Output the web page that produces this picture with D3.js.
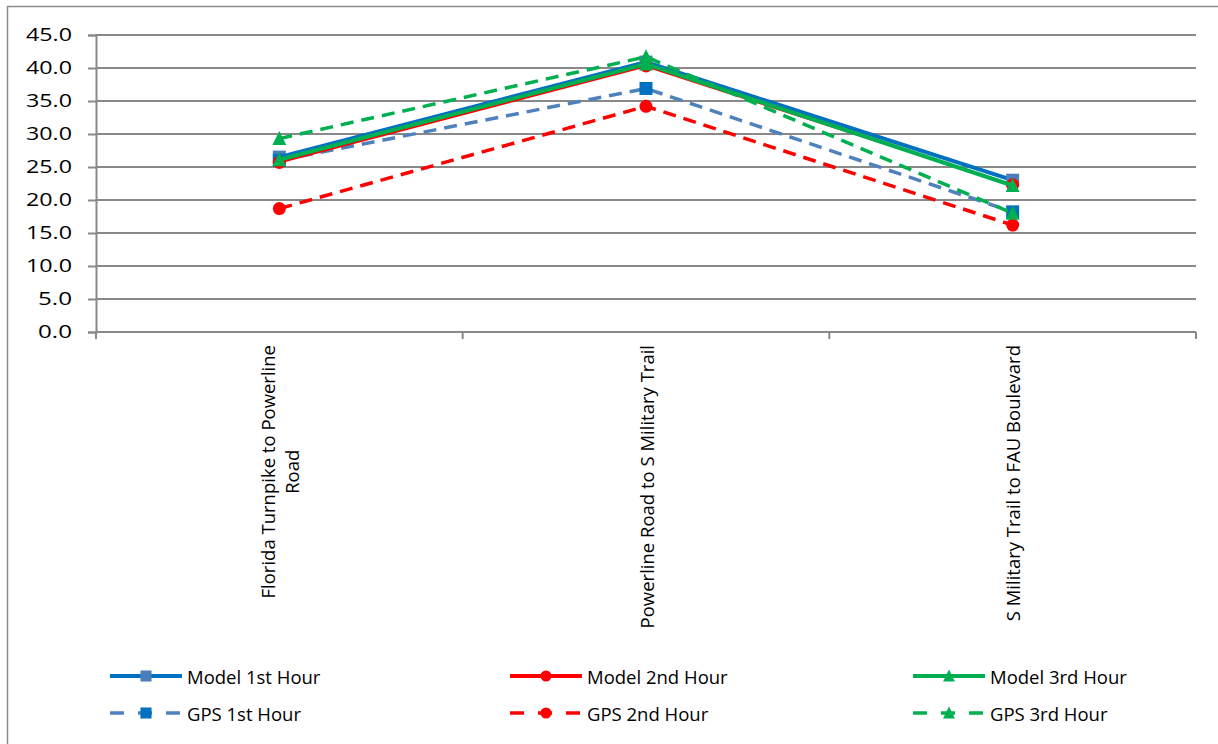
<!DOCTYPE html>
<html>
<head>
<meta charset="utf-8">
<script src="https://cdn.jsdelivr.net/npm/d3@7"></script>
<style>
  body { margin: 0; background: #fff; }
  svg { display: block; }
  text { font-family: "Open Sans", "Liberation Sans", sans-serif; fill: #000; }
</style>
</head>
<body>
<svg id="chart" width="1218" height="744"></svg>
<script>
const categories = [
  ["Florida Turnpike to Powerline", "Road"],
  ["Powerline Road to S Military Trail"],
  ["S Military Trail to FAU Boulevard"]
];
const yTicks = [0, 5, 10, 15, 20, 25, 30, 35, 40, 45];
const seriesNames = ["Model 1st Hour", "Model 2nd Hour", "Model 3rd Hour", "GPS 1st Hour", "GPS 2nd Hour", "GPS 3rd Hour"];
const model1 = [26.5, 40.9, 23.0];
const model2 = [25.7, 40.3, 22.3];
const model3 = [26.1, 40.6, 22.2];
const gps1 = [26.0, 36.9, 18.2];
const gps2 = [18.7, 34.2, 16.2];
const gps3 = [29.3, 41.7, 18.0];

const styles = [
  { name: seriesNames[0], values: model1, line: "#0070C0", width: 4, dash: null, marker: "square", fill: "#4A7EBB" },
  { name: seriesNames[1], values: model2, line: "#FF0000", width: 2.5, dash: null, marker: "circle", fill: "#FF0000" },
  { name: seriesNames[2], values: model3, line: "#00B050", width: 4, dash: null, marker: "triangle", fill: "#00B050" },
  { name: seriesNames[3], values: gps1, line: "#4F81BD", width: 3.5, dash: "13,8", marker: "square", fill: "#0070C0" },
  { name: seriesNames[4], values: gps2, line: "#FF0000", width: 3.5, dash: "13,8", marker: "circle", fill: "#FF0000" },
  { name: seriesNames[5], values: gps3, line: "#00B050", width: 3.5, dash: "13,8", marker: "triangle", fill: "#00B050" }
];

const svg = d3.select("#chart");
const gridColor = "#898989";

// outer border (partially visible)
svg.append("rect").attr("x", 7.5).attr("y", 6.5).attr("width", 1240).attr("height", 760)
  .attr("fill", "none").attr("stroke", "#8c8c8c").attr("stroke-width", 1.5);

const plotLeft = 96, plotRight = 1196, plotTop = 35, plotBottom = 332;
const x = d3.scaleBand().domain(d3.range(categories.length)).range([plotLeft, plotRight]);
const y = d3.scaleLinear().domain([0, 45]).range([plotBottom, plotTop]);

// gridlines
svg.append("g").selectAll("line").data(yTicks).join("line")
  .attr("x1", plotLeft).attr("x2", plotRight)
  .attr("y1", d => y(d)).attr("y2", d => y(d))
  .attr("stroke", gridColor).attr("stroke-width", 2);

// y axis
const yAxis = svg.append("g").attr("transform", `translate(${plotLeft},0)`)
  .call(d3.axisLeft(y).tickValues(yTicks).tickSize(8).tickPadding(16).tickFormat(d3.format(".1f")));
yAxis.select(".domain").attr("stroke", gridColor).attr("stroke-width", 2);
yAxis.selectAll(".tick line").attr("stroke", gridColor).attr("stroke-width", 2);
yAxis.selectAll(".tick text").attr("font-size", 18.5)
  .attr("font-family", "'Open Sans', sans-serif")
  .attr("textLength", d => d >= 10 ? 46 : 34)
  .attr("lengthAdjust", "spacingAndGlyphs");

// x axis line and boundary ticks
svg.append("line").attr("x1", plotLeft).attr("x2", plotRight).attr("y1", plotBottom).attr("y2", plotBottom)
  .attr("stroke", gridColor).attr("stroke-width", 2);
const bounds = d3.range(categories.length + 1).map(i => i < categories.length ? x(i) : x(i - 1) + x.bandwidth());
svg.append("g").selectAll("line").data(bounds).join("line")
  .attr("x1", d => d).attr("x2", d => d).attr("y1", plotBottom).attr("y2", plotBottom + 7)
  .attr("stroke", gridColor).attr("stroke-width", 2);

// category labels (rotated)
const labelTop = 345;
categories.forEach((lines, i) => {
  const cx = x(i) + x.bandwidth() / 2;
  const g = svg.append("g");
  const lh = 24;
  const texts = lines.map((ln, j) => {
    const off = (j - (lines.length - 1) / 2) * lh;
    return g.append("text").text(ln)
      .attr("font-size", 18.5)
      .attr("text-anchor", "middle")
      .attr("dominant-baseline", "central")
      .attr("data-off", off);
  });
  const maxLen = d3.max(texts, t => t.node().getComputedTextLength());
  const cy = labelTop + maxLen / 2;
  texts.forEach(t => {
    const off = +t.attr("data-off");
    t.attr("transform", `translate(${cx + off},${cy}) rotate(-90)`);
  });
});

const cxOf = i => x(i) + x.bandwidth() / 2;
const lineGen = d3.line().x((d, i) => cxOf(i)).y(d => y(d));

function drawMarker(g, type, px, py, fill, scale) {
  const s = scale || 1;
  if (type === "square") {
    g.append("rect").attr("x", px - 6.5 * s).attr("y", py - 6.5 * s).attr("width", 13 * s).attr("height", 13 * s).attr("fill", fill);
  } else if (type === "circle") {
    g.append("circle").attr("cx", px).attr("cy", py).attr("r", 6.5 * s).attr("fill", fill);
  } else {
    const h = 13 * s, w = 14 * s;
    g.append("path").attr("d", `M${px},${py - h / 2 - 1}L${px + w / 2},${py + h / 2}L${px - w / 2},${py + h / 2}Z`).attr("fill", fill);
  }
}

// series: lines and markers
const order = [0, 3, 1, 4, 2, 5];
order.forEach(k => {
  const s = styles[k];
  const g = svg.append("g");
  g.append("path").datum(s.values).attr("d", lineGen)
    .attr("fill", "none").attr("stroke", s.line).attr("stroke-width", s.width)
    .attr("stroke-dasharray", s.dash);
  s.values.forEach((v, i) => drawMarker(g, s.marker, cxOf(i), y(v), s.fill));
});

// legend
const legCols = [110, 510, 913];
const legRows = [676, 713];
styles.forEach((s, k) => {
  const col = k % 3, row = Math.floor(k / 3);
  const lx = legCols[col], ly = legRows[row];
  const g = svg.append("g");
  g.append("line").attr("x1", lx).attr("x2", lx + 72).attr("y1", ly).attr("y2", ly)
    .attr("stroke", s.line).attr("stroke-width", s.dash ? 3.5 : 4)
    .attr("stroke-dasharray", s.dash ? "14,14" : null);
  drawMarker(g, s.marker, lx + 36, ly, s.fill, 0.85);
  g.append("text").attr("x", lx + 77).attr("y", ly).attr("dominant-baseline", "central")
    .attr("font-size", 18.5).text(s.name);
});
</script>
</body>
</html>
